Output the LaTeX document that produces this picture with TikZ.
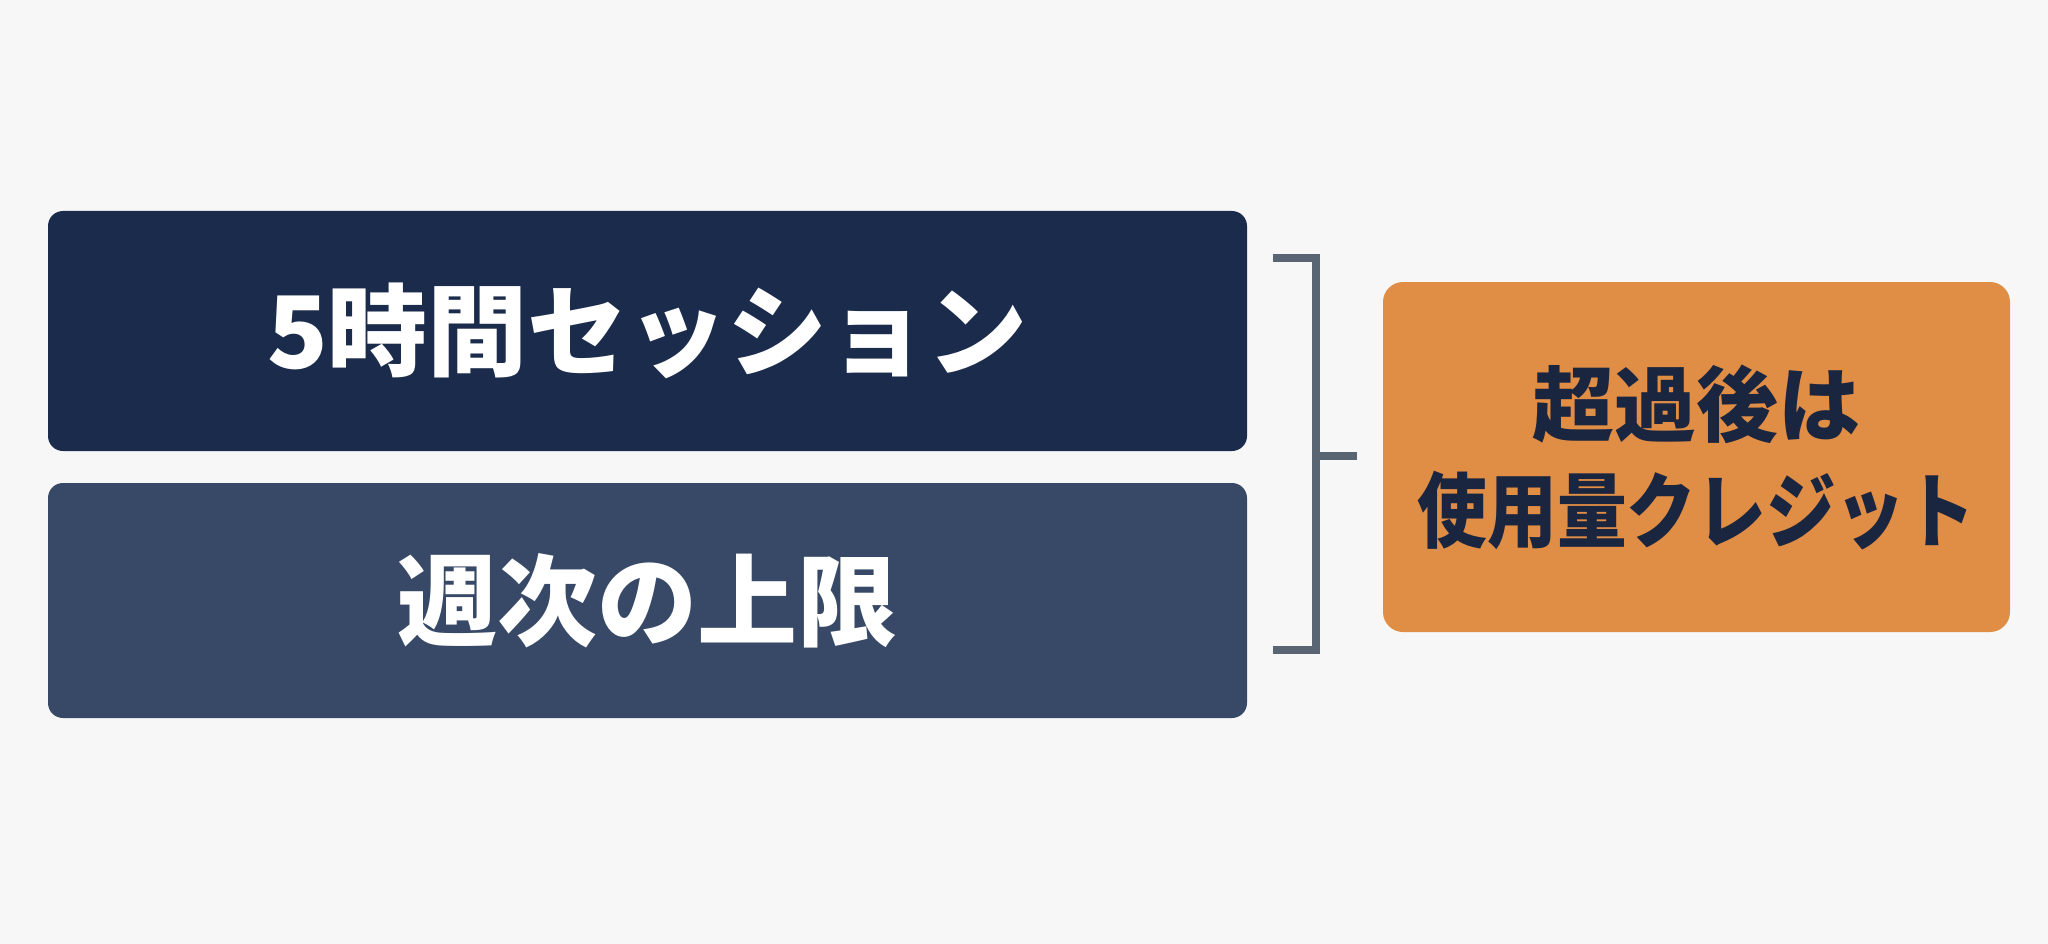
\documentclass[tikz,border=0pt]{standalone}
\usepackage{fontspec}
\setmainfont{Noto Sans CJK JP}
\definecolor{bg}{HTML}{F7F7F7}
\definecolor{navy}{HTML}{1B2B4B}
\definecolor{slate}{HTML}{374966}
\definecolor{orng}{HTML}{E08D45}
\definecolor{ink}{HTML}{1A2540}
\definecolor{brk}{HTML}{5A6573}
\tikzset{
  box/.style={rectangle, rounded corners=15pt, inner sep=0pt, outer sep=0pt, draw=none},
  bigtext/.style={text=white, font=\fontsize{100}{110}\selectfont\bfseries},
  bracketline/.style={draw=brk, line width=8pt, line cap=butt, line join=miter}
}
\begin{document}
\begin{tikzpicture}[x=1pt,y=-1pt]
\fill[bg] (0,0) rectangle (2048,944);
\useasboundingbox (0,0) rectangle (2048,944);

\node[box, fill=navy, minimum width=1199pt, minimum height=240pt, bigtext] (sess) at (647.5,331) {5時間セッション};
\node[box, fill=slate, minimum width=1199pt, minimum height=235pt, bigtext] (week) at (647.5,600.5) {週次の上限};
\node[box, rounded corners=20pt, fill=orng, minimum width=627pt, minimum height=350pt, text=ink, align=center,
      font=\fontsize{82}{106}\selectfont\bfseries] (credit) at (1696.5,457)
      {超過後は\\\scalebox{0.85}[1]{使用量クレジット}};

% bracket joining the two limits to the credit box
\coordinate (btop) at (1273,258);
\coordinate (bcorner1) at (1316,258);
\coordinate (bcorner2) at (1316,650);
\coordinate (bbot) at (1273,650);
\coordinate (bmid) at (1316,456);
\coordinate (btip) at (1357,456);
\draw[bracketline] (btop) -- (bcorner1) -- (bcorner2) -- (bbot);
\draw[bracketline] (bmid) -- (btip);
\end{tikzpicture}
\end{document}
